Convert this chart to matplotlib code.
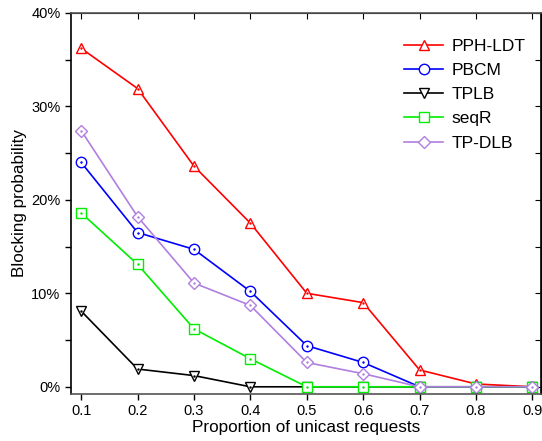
import matplotlib
matplotlib.use("Agg")
import matplotlib.pyplot as plt
from matplotlib.ticker import MultipleLocator, FuncFormatter

plt.rcParams['font.family'] = ['Liberation Sans', 'DejaVu Sans']

proportion = [0.1, 0.2, 0.3, 0.4, 0.5, 0.6, 0.7, 0.8, 0.9]
pph_ldt = [36.2, 31.9, 23.6, 17.5, 10.0, 9.0, 1.8, 0.3, 0.0]
pbcm = [24.0, 16.5, 14.7, 10.2, 4.4, 2.6, 0.0, 0.0, 0.0]
tplb = [8.1, 1.9, 1.2, 0.0, 0.0, 0.0, 0.0, 0.0, 0.0]
seqr = [18.6, 13.1, 6.2, 3.0, 0.0, 0.0, 0.0, 0.0, 0.0]
tp_dlb = [27.4, 18.2, 11.1, 8.7, 2.6, 1.4, 0.0, 0.0, 0.0]
names = ['PPH-LDT', 'PBCM', 'TPLB', 'seqR', 'TP-DLB']


def main():
    fig = plt.figure(figsize=(5.42, 4.41), dpi=100)
    ax = fig.add_axes([0.131, 0.107, 0.867, 0.864])

    series = [
        (pph_ldt, '#ff0000', '^'),
        (pbcm, '#0000ff', 'o'),
        (tplb, '#000000', 'v'),
        (seqr, '#00ee00', 's'),
        (tp_dlb, '#b07fe0', 'D'),
    ]
    handles = []
    for name, (vals, col, mk) in zip(names, series):
        ms = 6 if mk == 'D' else 7.5
        ys = [v / 100 for v in vals]
        h, = ax.plot(proportion, ys, color=col, marker=mk,
                     markersize=ms, markerfacecolor='white', markeredgecolor=col,
                     markeredgewidth=1.0, linewidth=1.2, label=name)
        handles.append(h)
        # tiny centre dot, Origin style
        ax.plot(proportion, ys, linestyle='none', marker='.', markersize=1.5,
                color=col)

    ax.set_xlim(0.082, 0.915)
    ax.set_ylim(-0.0075, 0.40)
    ax.xaxis.set_major_locator(MultipleLocator(0.1))
    ax.yaxis.set_major_locator(MultipleLocator(0.10))
    ax.yaxis.set_minor_locator(MultipleLocator(0.05))
    ax.yaxis.set_major_formatter(FuncFormatter(lambda v, p: f"{v*100:.0f}%"))
    ax.xaxis.set_major_formatter(FuncFormatter(lambda v, p: f"{v:.1f}"))

    ax.tick_params(axis='both', which='both', labelsize=10.5, length=4, width=1)
    ax.tick_params(axis='x', which='both', direction='out', top=False)
    ax.tick_params(axis='y', which='both', direction='out', right=False)

    # inner ticks on top and right
    sec = ax.secondary_xaxis('top')
    sec.xaxis.set_major_locator(MultipleLocator(0.1))
    sec.tick_params(direction='in', length=4, labeltop=False)
    secy = ax.secondary_yaxis('right')
    secy.yaxis.set_major_locator(MultipleLocator(0.05))
    secy.tick_params(direction='in', length=4, labelright=False)

    for s in ax.spines.values():
        s.set_linewidth(1.2)
    ax.spines['bottom'].set_color('#555555')
    ax.spines['top'].set_color('#555555')

    ax.set_xlabel('Proportion of unicast requests', fontsize=12.3, labelpad=1)
    ax.set_ylabel('Blocking probability', fontsize=12.3, labelpad=3)

    ax.legend(handles, names, loc='upper right', frameon=False, fontsize=12.5,
              handlelength=2.3, handletextpad=0.45, labelspacing=0.52,
              bbox_to_anchor=(1.0, 0.973))

    fig.savefig('out.png', dpi=100)


if __name__ == "__main__":
    main()
